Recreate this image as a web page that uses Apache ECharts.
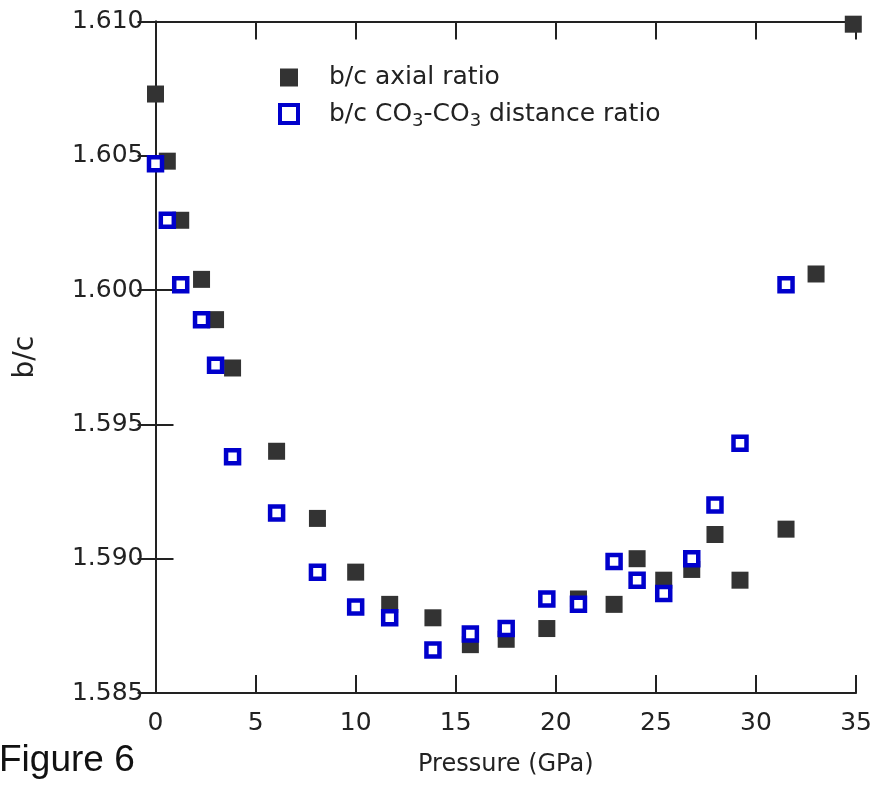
<!DOCTYPE html>
<html>
<head>
<meta charset="utf-8">
<script src="https://cdn.jsdelivr.net/npm/echarts@6/dist/echarts.min.js"></script>
<style>
html,body{margin:0;padding:0;background:#fff;}
#chart{width:875px;height:790px;}
</style>
</head>
<body>
<div id="chart"></div>
<script>
// Data
const pressure = [0, 0.59, 1.26, 2.3, 3.0, 3.85, 6.05, 8.09, 10.0, 11.7, 13.86, 15.73, 17.52, 19.55, 21.13, 22.91, 24.06, 25.39, 26.79, 27.95, 29.2, 31.5, 33.0, 34.86];
const axialRatio = [1.6073, 1.6048, 1.6026, 1.6004, 1.5989, 1.5971, 1.5940, 1.5915, 1.5895, 1.5883, 1.5878, 1.5868, 1.5870, 1.5874, 1.5885, 1.5883, 1.5900, 1.5892, 1.5896, 1.5909, 1.5892, 1.5911, 1.6006, 1.6099];
const co3Ratio = [1.6047, 1.6026, 1.6002, 1.5989, 1.5972, 1.5938, 1.5917, 1.5895, 1.5882, 1.5878, 1.5866, 1.5872, 1.5874, 1.5885, 1.5883, 1.5899, 1.5892, 1.5887, 1.5900, 1.5920, 1.5943, 1.6002];
const seriesNames = ['b/c axial ratio', 'b/c CO3-CO3 distance ratio'];
const xTicks = {min: 0, max: 35, interval: 5};
const yTicks = {min: 1.585, max: 1.610, interval: 0.005};

const axialData = pressure.map((p, i) => [p, axialRatio[i]]);
const co3Data = co3Ratio.map((v, i) => [pressure[i], v]);

const axisColor = '#222';
const font = 'DejaVu Sans';
const axisLine = {show: true, lineStyle: {color: axisColor, width: 2}};
const axisTick = {show: true, inside: true, length: 18, lineStyle: {color: axisColor, width: 2}};
const blueStyle = {color: '#ffffff', borderColor: '#0000cc', borderWidth: 4.5, opacity: 1};

const chart = echarts.init(document.getElementById('chart'));
chart.setOption({
  animation: false,
  backgroundColor: '#fff',
  grid: {left: 155.5, right: 18, top: 21.5, bottom: 97, containLabel: false},
  legend: {
    orient: 'vertical',
    left: 273,
    top: 60,
    itemWidth: 18,
    itemHeight: 18,
    itemGap: 8,
    data: [
      {name: seriesNames[0], icon: 'rect', itemStyle: {color: '#333333'}},
      {name: seriesNames[1], icon: 'rect', itemStyle: {color: '#ffffff', borderColor: '#0000cc', borderWidth: 4}}
    ],
    formatter: function (name) {
      if (name === seriesNames[1]) {
        return '{g|}{t|b/c CO}{s|3}{t|-CO}{s|3}{t| distance ratio}';
      }
      return '{g|}{t|' + name + '}';
    },
    textStyle: {
      rich: {
        g: {width: 26},
        t: {fontFamily: font, fontSize: 25, color: '#222', lineHeight: 30},
        s: {fontFamily: font, fontSize: 18, color: '#222', lineHeight: 30, padding: [14, 0, 0, 0]}
      }
    }
  },
  graphic: [
    {
      type: 'text',
      left: -1,
      top: 742,
      style: {text: 'Figure 6', font: '37px "Liberation Sans"', fill: '#111'}
    }
  ],
  xAxis: [
    {
      type: 'value', position: 'bottom',
      min: xTicks.min, max: xTicks.max, interval: xTicks.interval,
      axisLine: axisLine, axisTick: axisTick, splitLine: {show: false},
      axisLabel: {fontFamily: font, fontSize: 25, color: '#222', margin: 18},
      name: 'Pressure (GPa)', nameLocation: 'middle', nameGap: 60,
      nameTextStyle: {fontFamily: font, fontSize: 24, color: '#222'}
    },
    {
      type: 'value', position: 'top',
      min: xTicks.min, max: xTicks.max, interval: xTicks.interval,
      axisLine: axisLine, axisTick: axisTick, splitLine: {show: false},
      axisLabel: {show: false}
    }
  ],
  yAxis: [
    {
      type: 'value', position: 'left',
      min: yTicks.min, max: yTicks.max, interval: yTicks.interval,
      axisLine: axisLine, axisTick: axisTick, splitLine: {show: false},
      axisLabel: {fontFamily: font, fontSize: 25, color: '#222', margin: 12,
        formatter: v => v.toFixed(3)},
      name: 'b/c', nameLocation: 'middle', nameGap: 116, nameRotate: 90,
      nameTextStyle: {fontFamily: font, fontSize: 28, color: '#222'}
    },
    {
      type: 'value', position: 'right',
      min: yTicks.min, max: yTicks.max, interval: yTicks.interval,
      axisLine: axisLine, axisTick: axisTick, splitLine: {show: false},
      axisLabel: {show: false}
    }
  ],
  series: [
    {
      name: seriesNames[0], type: 'scatter', xAxisIndex: 0, yAxisIndex: 0,
      symbol: 'rect', symbolSize: 17,
      itemStyle: {color: '#333333', opacity: 1},
      data: axialData, z: 2
    },
    {
      name: seriesNames[1], type: 'scatter', xAxisIndex: 0, yAxisIndex: 0,
      symbol: 'rect', symbolSize: 13,
      itemStyle: blueStyle,
      data: co3Data, z: 3
    }
  ]
});
</script>
</body>
</html>
